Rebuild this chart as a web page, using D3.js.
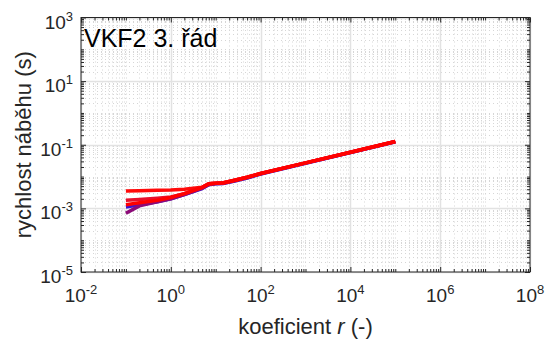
<!DOCTYPE html>
<html>
<head>
<meta charset="utf-8">
<script src="https://cdn.jsdelivr.net/npm/d3@7"></script>
<style>
  body { margin: 0; background: #fff; }
  svg { display: block; font-family: "Liberation Sans", Arial, sans-serif; }
</style>
</head>
<body>
<svg id="chart" width="549" height="342"></svg>
<script>
// coefficient r (x axis), shared by all curves
const rValues = [0.1, 0.2, 0.5, 1, 2, 5, 7, 10, 15, 25, 50, 100, 1e3, 1e4, 1e5];

// rise time (s), one array per curve
const seriesBlue   = [0.0011, 0.0013, 0.0016, 0.0020, 0.0027, 0.0042, 0.0055, 0.0059, 0.0061, 0.0071, 0.0090, 0.0120, 0.0262, 0.057, 0.124];
const seriesPurple = [0.0007, 0.0012, 0.0016, 0.0020, 0.0027, 0.0043, 0.0056, 0.0060, 0.0062, 0.0072, 0.0092, 0.0122, 0.0265, 0.057, 0.124];
const seriesRed2   = [0.0018, 0.0019, 0.0021, 0.0023, 0.0029, 0.0046, 0.0059, 0.0062, 0.0064, 0.0075, 0.0095, 0.0125, 0.027, 0.058, 0.126];
const seriesRed1   = [0.0035, 0.0036, 0.0037, 0.0038, 0.0040, 0.0046, 0.0059, 0.0062, 0.0064, 0.0075, 0.0095, 0.0125, 0.027, 0.058, 0.126];
const seriesMain   = [0.0013, 0.0015, 0.0018, 0.0022, 0.0029, 0.0046, 0.0059, 0.0062, 0.0064, 0.0075, 0.0095, 0.0125, 0.027, 0.058, 0.126];

const seriesList = [seriesBlue, seriesPurple, seriesRed2, seriesRed1, seriesMain];
const seriesColors = ["#3c14d2", "#8c0a78", "#e8102c", "#ff0a0a", "#ff0000"];

const xMajor = [1e-2, 1e0, 1e2, 1e4, 1e6, 1e8];
const yMajor = [1e-5, 1e-3, 1e-1, 1e1, 1e3];

const titleText = "VKF2 3. řád";
const xLabel = "koeficient ";
const yLabel = "rychlost náběhu (s)";

const margin = { left: 81, right: 530, top: 17.5, bottom: 272 };

const svg = d3.select("#chart");

const x = d3.scaleLog().domain([1e-2, 1e8]).range([margin.left, margin.right]);
const y = d3.scaleLog().domain([1e-5, 1e3]).range([margin.bottom, margin.top]);

// minor values: every m*10^k that is not a labelled tick
function minorValues(lo, hi, major) {
  let out = [];
  for (let k = lo; k < hi; k++) {
    for (let m = 1; m <= 9; m++) {
      let v = m * Math.pow(10, k);
      if (!major.some(t => Math.abs(Math.log10(t) - Math.log10(v)) < 1e-9)) out.push(v);
    }
  }
  return out;
}
const xMinor = minorValues(-2, 8, xMajor);
const yMinor = minorValues(-5, 3, yMajor);

// grid
const grid = svg.append("g");
grid.selectAll(".xminor").data(xMinor).join("line")
    .attr("x1", d => Math.round(x(d)) + 0.5).attr("x2", d => Math.round(x(d)) + 0.5)
    .attr("y1", margin.top).attr("y2", margin.bottom)
    .attr("stroke", "#d6d6d6").attr("stroke-width", 1).attr("stroke-dasharray", "1,3");
grid.selectAll(".yminor").data(yMinor).join("line")
    .attr("y1", d => Math.round(y(d)) + 0.5).attr("y2", d => Math.round(y(d)) + 0.5)
    .attr("x1", margin.left).attr("x2", margin.right)
    .attr("stroke", "#d6d6d6").attr("stroke-width", 1).attr("stroke-dasharray", "1,3");
grid.selectAll(".xmajor").data(xMajor).join("line")
    .attr("x1", d => Math.round(x(d)) + 0.5).attr("x2", d => Math.round(x(d)) + 0.5)
    .attr("y1", margin.top).attr("y2", margin.bottom)
    .attr("stroke", "#e2e2e2").attr("stroke-width", 1.5);
grid.selectAll(".ymajor").data(yMajor).join("line")
    .attr("y1", d => Math.round(y(d)) + 0.5).attr("y2", d => Math.round(y(d)) + 0.5)
    .attr("x1", margin.left).attr("x2", margin.right)
    .attr("stroke", "#e2e2e2").attr("stroke-width", 1.5);

// curves
svg.append("clipPath").attr("id", "plotclip")
  .append("rect")
    .attr("x", margin.left).attr("y", margin.top)
    .attr("width", margin.right - margin.left).attr("height", margin.bottom - margin.top);

const line = d3.line()
    .x((d, i) => x(rValues[i]))
    .y(d => y(d));

svg.append("g").attr("clip-path", "url(#plotclip)")
  .selectAll("path")
  .data(seriesList)
  .join("path")
    .attr("d", d => line(d))
    .attr("fill", "none")
    .attr("stroke", (d, i) => seriesColors[i])
    .attr("stroke-width", 3.5)
    .attr("stroke-linejoin", "round");

// axes: ticks inside on all four sides
function styleAxis(g) {
  g.select(".domain").remove();
  g.selectAll("line").attr("stroke", "#262626");
  g.selectAll("text").remove();
}
svg.append("g").attr("transform", `translate(0,${margin.bottom})`)
    .call(d3.axisBottom(x).tickValues(xMajor).tickSize(-5)).call(styleAxis);
svg.append("g").attr("transform", `translate(0,${margin.bottom})`)
    .call(d3.axisBottom(x).tickValues(xMinor).tickSize(-3)).call(styleAxis);
svg.append("g").attr("transform", `translate(0,${margin.top})`)
    .call(d3.axisTop(x).tickValues(xMajor).tickSize(-5)).call(styleAxis);
svg.append("g").attr("transform", `translate(0,${margin.top})`)
    .call(d3.axisTop(x).tickValues(xMinor).tickSize(-3)).call(styleAxis);
svg.append("g").attr("transform", `translate(${margin.left},0)`)
    .call(d3.axisLeft(y).tickValues(yMajor).tickSize(-5)).call(styleAxis);
svg.append("g").attr("transform", `translate(${margin.left},0)`)
    .call(d3.axisLeft(y).tickValues(yMinor).tickSize(-3)).call(styleAxis);
svg.append("g").attr("transform", `translate(${margin.right},0)`)
    .call(d3.axisRight(y).tickValues(yMajor).tickSize(-5)).call(styleAxis);
svg.append("g").attr("transform", `translate(${margin.right},0)`)
    .call(d3.axisRight(y).tickValues(yMinor).tickSize(-3)).call(styleAxis);

// box
svg.append("rect")
    .attr("x", margin.left).attr("y", margin.top)
    .attr("width", margin.right - margin.left).attr("height", margin.bottom - margin.top)
    .attr("fill", "none").attr("stroke", "#262626").attr("stroke-width", 1);

// tick labels with superscript exponents
function powLabel(sel, v) {
  sel.append("tspan").text("10");
  sel.append("tspan").attr("dy", -8).attr("font-size", 13).text(Math.round(Math.log10(v)));
}
svg.append("g").selectAll("text").data(xMajor).join("text")
    .attr("x", d => x(d)).attr("y", 302)
    .attr("text-anchor", "middle").attr("font-size", 19).attr("fill", "#262626")
    .each(function (d) { powLabel(d3.select(this), d); });
svg.append("g").selectAll("text").data(yMajor).join("text")
    .attr("x", 73).attr("y", d => y(d) + 11)
    .attr("text-anchor", "end").attr("font-size", 19).attr("fill", "#262626")
    .each(function (d) { powLabel(d3.select(this), d); });

// axis labels
const xl = svg.append("text")
    .attr("x", (margin.left + margin.right) / 2).attr("y", 334)
    .attr("text-anchor", "middle").attr("font-size", 22).attr("fill", "#262626");
xl.append("tspan").text(xLabel);
xl.append("tspan").attr("font-style", "italic").text("r");
xl.append("tspan").text(" (-)");

svg.append("text")
    .attr("transform", `translate(31,${(margin.top + margin.bottom) / 2}) rotate(-90)`)
    .attr("text-anchor", "middle").attr("font-size", 22).attr("fill", "#262626")
    .text(yLabel);

// title inside the axes
svg.append("text")
    .attr("x", 84).attr("y", 47)
    .attr("font-size", 25).attr("fill", "#000")
    .text(titleText);
</script>
</body>
</html>
